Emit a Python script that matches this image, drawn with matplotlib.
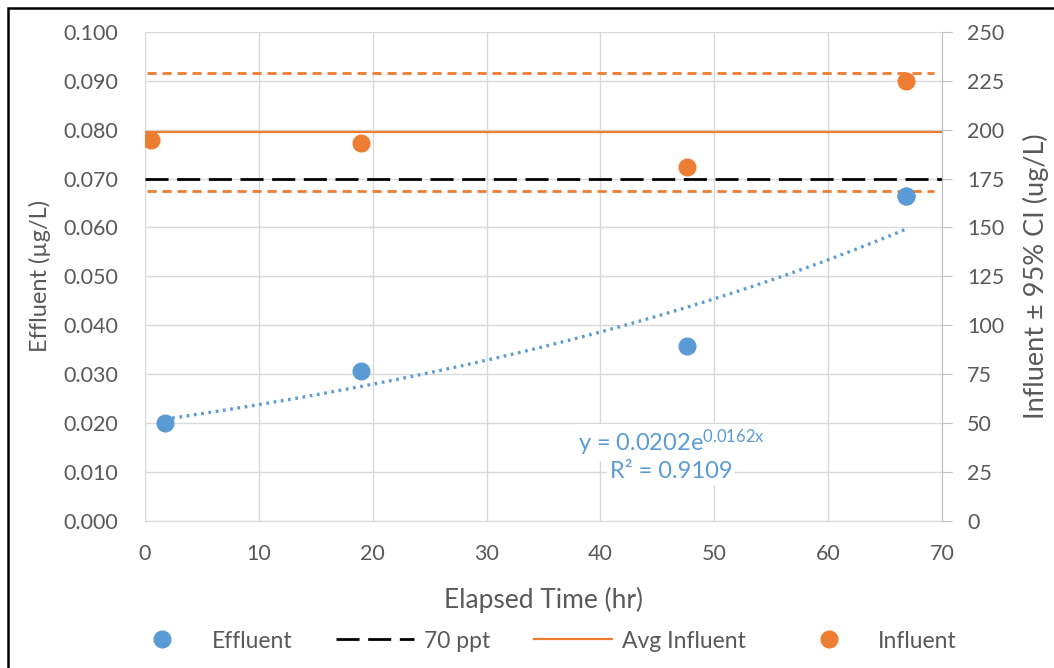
import numpy as np
import matplotlib.pyplot as plt
from matplotlib.patches import Rectangle
from matplotlib.ticker import FormatStrFormatter, MultipleLocator

plt.rcParams["font.family"] = ["Lato", "DejaVu Sans"]
plt.rcParams["mathtext.fontset"] = "custom"
plt.rcParams["mathtext.rm"] = "Lato"
plt.rcParams["mathtext.it"] = "Lato:italic"

blue = "#5B9BD5"
orange = "#ED7D31"
grid_c = "#D9D9D9"
text_c = "#595959"

# effluent (ug/L, left axis)
eff_t = [1.75, 19.0, 47.6, 66.8]
eff_v = [0.0200, 0.0307, 0.0358, 0.0664]
# influent (ug/L, right axis)
inf_t = [0.5, 19.0, 47.6, 66.8]
inf_v = [195, 193, 181, 225]
inf_avg = 199
inf_ci_hi = 229
inf_ci_lo = 168.5
limit_70ppt = 0.070
# exponential trendline shown on chart
fit_a = 0.0202
fit_b = 0.0162
fit_r2 = 0.9109

fig = plt.figure(figsize=(10.54, 6.68), dpi=100)
ax = fig.add_axes([145 / 1054, 1 - 520.7 / 668, (942 - 145) / 1054, (520.7 - 32) / 668])
ax2 = ax.twinx()

# frame around figure
fig.patches.append(Rectangle((8 / 1054, -0.05), 1.1, 1 - 8 / 668 + 0.05,
                             transform=fig.transFigure, fill=False,
                             edgecolor="black", linewidth=1.8))

ax.set_xlim(0, 70)
ax.set_ylim(0, 0.1)
ax2.set_ylim(0, 250)
ax.xaxis.set_major_locator(MultipleLocator(10))
ax.yaxis.set_major_locator(MultipleLocator(0.01))
ax2.yaxis.set_major_locator(MultipleLocator(25))
ax.yaxis.set_major_formatter(FormatStrFormatter("%.3f"))
ax.grid(True, color=grid_c, linewidth=1)
ax.set_axisbelow(True)

for a in (ax, ax2):
    for s in ("top", "left"):
        a.spines[s].set_visible(False)
    a.spines["bottom"].set_color(grid_c)
    a.spines["right"].set_color("#BFBFBF")
ax.spines["right"].set_visible(False)
ax2.spines["bottom"].set_visible(False)

ax.tick_params(axis="y", length=0, labelsize=15.5, labelcolor=text_c, pad=19)
ax.tick_params(axis="x", length=0, labelsize=15.5, labelcolor=text_c, pad=17)
ax2.tick_params(axis="y", length=7, color="#BFBFBF", labelsize=15.5, labelcolor=text_c, pad=11)

# trendline
tt = np.linspace(eff_t[0], eff_t[-1], 200)
ax.plot(tt, fit_a * np.exp(fit_b * tt), color=blue, linewidth=2.4,
        linestyle=(0, (0.8, 1.4)), zorder=2)
h_lim, = ax.plot([0, 70], [limit_70ppt, limit_70ppt], color="black", linewidth=2,
                 linestyle=(0, (8.3, 3.1)), label="70 ppt", zorder=2)
h_eff, = ax.plot(eff_t, eff_v, "o", color=blue, markersize=12, label="Effluent", zorder=3)

h_avg, = ax2.plot([0, 70], [inf_avg, inf_avg], color=orange, linewidth=1.6, label="Avg Influent")
ax2.plot([0.2, 69.3], [inf_ci_hi, inf_ci_hi], color=orange, linewidth=2,
         linestyle=(0, (3.3, 2.1)))
ax2.plot([0.2, 69.3], [inf_ci_lo, inf_ci_lo], color=orange, linewidth=2,
         linestyle=(0, (3.3, 2.1)))
h_inf, = ax2.plot(inf_t, inf_v, "o", color=orange, markersize=12, label="Influent")
# keep last effluent point visible above secondary axis lines
ax2.plot(eff_t[-1:], [eff_v[-1] * 2500], "o", color=blue, markersize=12)

ax.set_xlabel("Elapsed Time (hr)", fontsize=19, color=text_c, labelpad=16)
ax.set_ylabel("Effluent (µg/L)", fontsize=17, color=text_c, labelpad=9)
ax2.set_ylabel("Influent ± 95% CI (ug/L)", fontsize=19.5, color=text_c, labelpad=13)

ax.text(46.2, 0.0160, r"y = %.4fe$^{\mathrm{%.4fx}}$" % (fit_a, fit_b), color=blue, fontsize=17,
        ha="center", va="center", bbox=dict(facecolor="white", edgecolor="none", pad=2))
ax.text(46.2, 0.0100, "R² = %.4f" % fit_r2, color=blue, fontsize=17,
        ha="center", va="center", bbox=dict(facecolor="white", edgecolor="none", pad=2))

fig.legend(handles=[h_eff, h_lim, h_avg, h_inf], loc="center", ncol=4,
           bbox_to_anchor=(540 / 1054, 1 - 641 / 668), frameon=False,
           fontsize=16.5, labelcolor=text_c, handlelength=3.4, handletextpad=0.45,
           columnspacing=1.9)

fig.savefig("out.png", dpi=100)
